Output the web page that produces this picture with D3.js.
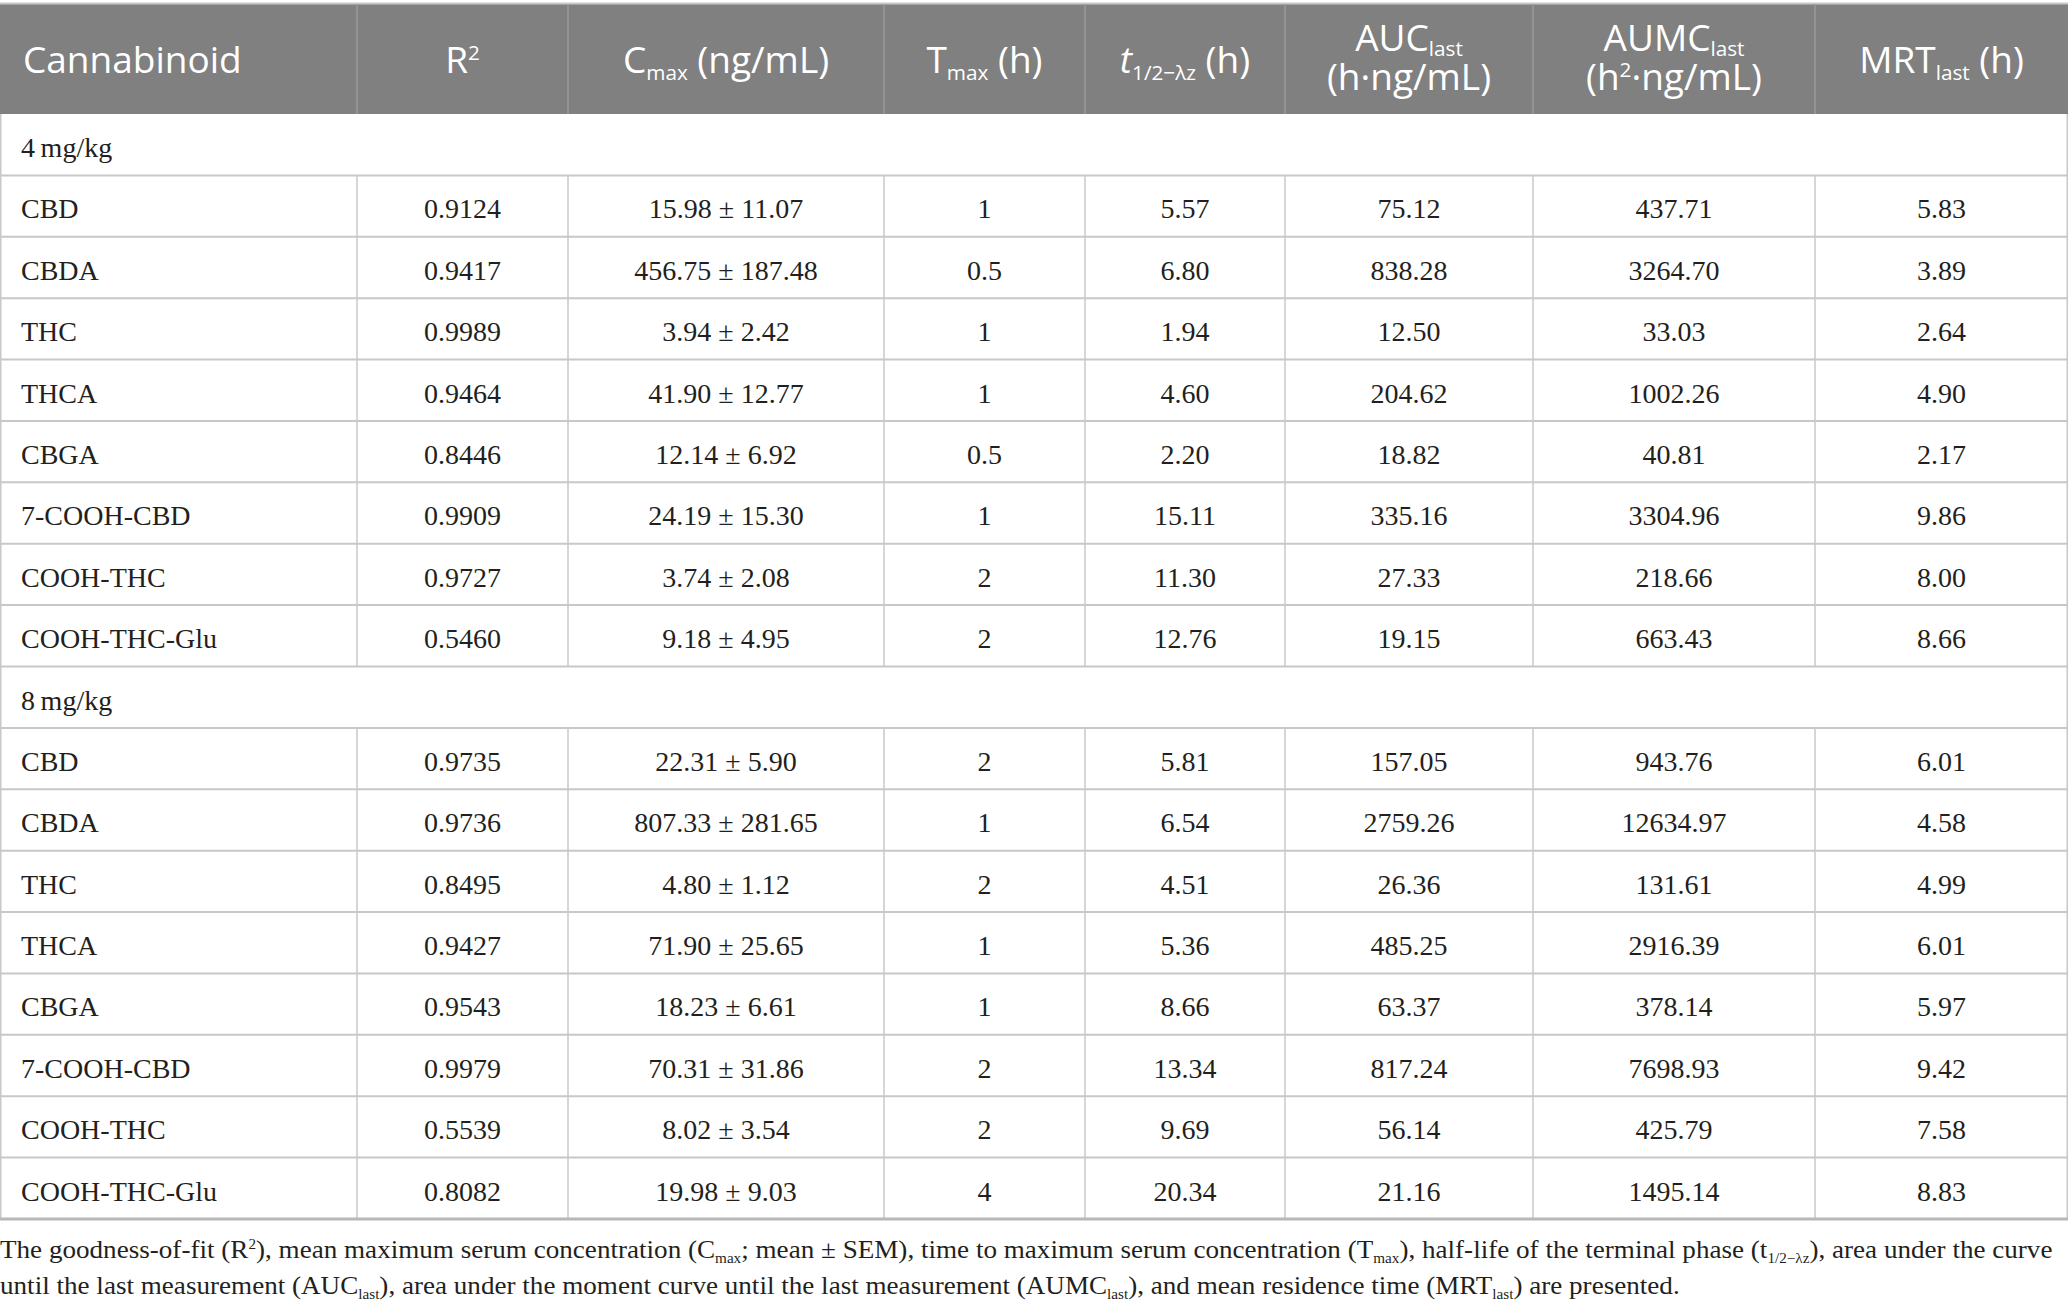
<!DOCTYPE html>
<html>
<head>
<meta charset="utf-8">
<script src="https://cdn.jsdelivr.net/npm/d3@7"></script>
<style>
  html, body { margin: 0; padding: 0; background: #fff; }
  svg { display: block; }
</style>
</head>
<body>
<div id="chart"></div>
<script>
// Pharmacokinetic parameters table, drawn as an svg grid

// ---- data ----
const doses = ['4\u2009mg/kg', '8\u2009mg/kg'];
const cannabinoids = ['CBD', 'CBDA', 'THC', 'THCA', 'CBGA', '7-COOH-CBD', 'COOH-THC', 'COOH-THC-Glu'];

const r2 = [
  ['0.9124', '0.9417', '0.9989', '0.9464', '0.8446', '0.9909', '0.9727', '0.5460'],
  ['0.9735', '0.9736', '0.8495', '0.9427', '0.9543', '0.9979', '0.5539', '0.8082']
];
const cmaxMean = [
  ['15.98', '456.75', '3.94', '41.90', '12.14', '24.19', '3.74', '9.18'],
  ['22.31', '807.33', '4.80', '71.90', '18.23', '70.31', '8.02', '19.98']
];
const cmaxSem = [
  ['11.07', '187.48', '2.42', '12.77', '6.92', '15.30', '2.08', '4.95'],
  ['5.90', '281.65', '1.12', '25.65', '6.61', '31.86', '3.54', '9.03']
];
const tmax = [
  ['1', '0.5', '1', '1', '0.5', '1', '2', '2'],
  ['2', '1', '2', '1', '1', '2', '2', '4']
];
const halfLife = [
  ['5.57', '6.80', '1.94', '4.60', '2.20', '15.11', '11.30', '12.76'],
  ['5.81', '6.54', '4.51', '5.36', '8.66', '13.34', '9.69', '20.34']
];
const aucLast = [
  ['75.12', '838.28', '12.50', '204.62', '18.82', '335.16', '27.33', '19.15'],
  ['157.05', '2759.26', '26.36', '485.25', '63.37', '817.24', '56.14', '21.16']
];
const aumcLast = [
  ['437.71', '3264.70', '33.03', '1002.26', '40.81', '3304.96', '218.66', '663.43'],
  ['943.76', '12634.97', '131.61', '2916.39', '378.14', '7698.93', '425.79', '1495.14']
];
const mrtLast = [
  ['5.83', '3.89', '2.64', '4.90', '2.17', '9.86', '8.00', '8.66'],
  ['6.01', '4.58', '4.99', '6.01', '5.97', '9.42', '7.58', '8.83']
];

// header labels: each line is a list of [text, style] pieces
const headers = [
  [[['Cannabinoid', 'n']]],
  [[['R', 'n'], ['2', 'sup']]],
  [[['C', 'n'], ['max', 'sub'], [' (ng/mL)', 'n']]],
  [[['T', 'n'], ['max', 'sub'], [' (h)', 'n']]],
  [[['t', 'i'], ['1/2\u2212\u03bbz', 'sub'], [' (h)', 'n']]],
  [[['AUC', 'n'], ['last', 'sub']], [['(h\u00b7ng/mL)', 'n']]],
  [[['AUMC', 'n'], ['last', 'sub']], [['(h', 'n'], ['2', 'sup'], ['\u00b7ng/mL)', 'n']]],
  [[['MRT', 'n'], ['last', 'sub'], [' (h)', 'n']]]
];

const caption = [
  [['The goodness-of-fit (R', 'n'], ['2', 'sup'], ['), mean maximum serum concentration (C', 'n'], ['max', 'sub'],
   ['; mean \u00b1 SEM), time to maximum serum concentration (T', 'n'], ['max', 'sub'],
   ['), half-life of the terminal phase (t', 'n'], ['1/2\u2212\u03bbz', 'sub'], ['), area under the curve', 'n']],
  [['until the last measurement (AUC', 'n'], ['last', 'sub'], ['), area under the moment curve until the last measurement (AUMC', 'n'],
   ['last', 'sub'], ['), and mean residence time (MRT', 'n'], ['last', 'sub'], [') are presented.', 'n']]
];

// ---- layout ----
const width = 2068, height = 1309;
const colEdges = [0, 357, 568, 884, 1085, 1285, 1533, 1815, 2068];
const headTop = 4, headBottom = 114, tableBottom = 1219;
const gridColor = '#c8c8c8';
const headFont = '"Open Sans", sans-serif';
const bodyFont = '"Liberation Serif", "Times New Roman", serif';

// one table row per dose label plus one per cannabinoid
const rows = [];
doses.forEach((dose, di) => {
  rows.push({ type: 'group', label: dose });
  cannabinoids.forEach((name, ci) => {
    rows.push({
      type: 'data',
      cells: [
        name,
        r2[di][ci],
        `${cmaxMean[di][ci]} \u00b1 ${cmaxSem[di][ci]}`,
        tmax[di][ci],
        halfLife[di][ci],
        aucLast[di][ci],
        aumcLast[di][ci],
        mrtLast[di][ci]
      ]
    });
  });
});

const y = d3.scaleLinear().domain([0, rows.length]).range([headBottom, tableBottom]);
const rowH = y(1) - y(0);

const svg = d3.select('#chart').append('svg')
  .attr('width', width)
  .attr('height', height);

// write rich text (sub / sup / italic) into a text element
function addRich(textSel, pieces, size, subShift = 0.2) {
  let pending = 0; // baseline offset still to undo
  pieces.forEach(([str, style]) => {
    const small = style === 'sub' || style === 'sup';
    const shift = style === 'sub' ? subShift * size : style === 'sup' ? -0.36 * size : 0;
    const t = textSel.append('tspan').text(str)
      .attr('font-size', small ? size * 0.56 : size);
    const dy = shift - pending;
    if (dy) t.attr('dy', dy);
    pending = shift;
    if (style === 'i') t.attr('font-style', 'italic');
  });
}

// ---- header ----
const head = svg.append('g');
head.append('rect')
  .attr('x', 0).attr('y', headTop)
  .attr('width', width).attr('height', headBottom - headTop)
  .attr('fill', '#7f807f');
head.append('line')
  .attr('x1', 0).attr('x2', width)
  .attr('y1', headTop - 0.5).attr('y2', headTop - 0.5)
  .attr('stroke', gridColor).attr('stroke-width', 2);
head.selectAll('line.sep')
  .data(colEdges.slice(1, -1))
  .join('line')
  .attr('class', 'sep')
  .attr('x1', d => d).attr('x2', d => d)
  .attr('y1', headTop).attr('y2', headBottom)
  .attr('stroke', '#9a9a9a').attr('stroke-width', 1.5);

const headSize = 37;
headers.forEach((lines, i) => {
  const left = i === 0;
  const x = left ? 23 : (colEdges[i] + colEdges[i + 1]) / 2;
  const baselines = lines.length === 1 ? [73] : [51, 90];
  lines.forEach((pieces, li) => {
    const t = head.append('text')
      .attr('x', x)
      .attr('y', baselines[li])
      .attr('text-anchor', left ? 'start' : 'middle')
      .attr('font-family', headFont)
      .attr('font-size', headSize)
      .attr('fill', '#fff');
    addRich(t, pieces, headSize, lines.length === 1 ? 0.2 : 0.14);
  });
});

// ---- body ----
const body = svg.append('g');
const bodySize = 28;
const baseOff = 43;

rows.forEach((row, i) => {
  const top = y(i);
  const g = body.append('g');
  if (row.type === 'group') {
    g.append('text')
      .attr('x', 21)
      .attr('y', top + baseOff)
      .attr('font-family', bodyFont)
      .attr('font-size', bodySize)
      .attr('fill', '#231f20')
      .text(row.label);
    return;
  }
  // column separators for data rows
  g.selectAll('line')
    .data(colEdges.slice(1, -1))
    .join('line')
    .attr('x1', d => d).attr('x2', d => d)
    .attr('y1', top).attr('y2', top + rowH)
    .attr('stroke', gridColor).attr('stroke-width', 1.5);
  g.selectAll('text')
    .data(row.cells)
    .join('text')
    .attr('x', (d, c) => c === 0 ? 21 : (colEdges[c] + colEdges[c + 1]) / 2)
    .attr('y', top + baseOff)
    .attr('text-anchor', (d, c) => c === 0 ? 'start' : 'middle')
    .attr('font-family', bodyFont)
    .attr('font-size', bodySize)
    .attr('fill', '#231f20')
    .text(d => d);
});

// horizontal rules between rows
body.selectAll('line.rule')
  .data(d3.range(1, rows.length))
  .join('line')
  .attr('class', 'rule')
  .attr('x1', 0).attr('x2', width)
  .attr('y1', d => y(d)).attr('y2', d => y(d))
  .attr('stroke', gridColor).attr('stroke-width', 2);

// outer frame of the body
body.append('line')
  .attr('x1', 0.75).attr('x2', 0.75)
  .attr('y1', headBottom).attr('y2', tableBottom)
  .attr('stroke', gridColor).attr('stroke-width', 1.5);
body.append('line')
  .attr('x1', width - 0.75).attr('x2', width - 0.75)
  .attr('y1', headBottom).attr('y2', tableBottom)
  .attr('stroke', gridColor).attr('stroke-width', 1.5);
body.append('line')
  .attr('x1', 0).attr('x2', width)
  .attr('y1', tableBottom).attr('y2', tableBottom)
  .attr('stroke', '#b8b8b8').attr('stroke-width', 3);

// ---- caption ----
const capG = svg.append('g');
const capSize = 26;
const capLines = caption.map((pieces, li) => {
  const t = capG.append('text')
    .attr('x', 0)
    .attr('y', [1258, 1294][li])
    .attr('font-family', bodyFont)
    .attr('font-size', capSize)
    .attr('fill', '#231f20');
  addRich(t, pieces, capSize);
  return t;
});
// squeeze caption so the first line spans the page width (reference face is condensed)
const w0 = capLines[0].node().getComputedTextLength();
const k = 2054 / w0;
capG.attr('transform', `scale(${k},1)`);
</script>
</body>
</html>
